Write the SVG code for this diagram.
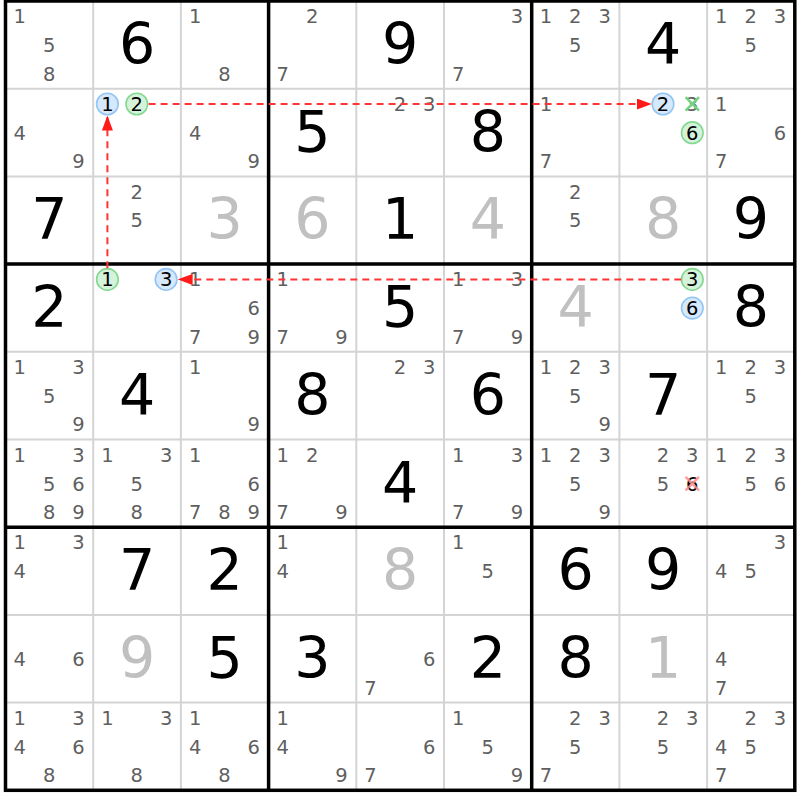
<svg xmlns="http://www.w3.org/2000/svg" width="800" height="800" viewBox="0 0 800 800">
<style>
text{font-family:"DejaVu Sans","Liberation Sans",sans-serif;text-anchor:middle}
.c{font-size:19.5px;fill:#5f5f5f}
.k{font-size:19.5px;fill:#000}
.g{font-size:57px;fill:#000}
.s{font-size:57px;fill:#c0c0c0}
.thin{stroke:#d4d4d4;stroke-width:2}
.thick{stroke:#000;stroke-width:3.5}
.cb{fill:#d6e8fb;stroke:#93c5f4;stroke-width:1.6}
.cg{fill:#d5f3da;stroke:#84d892;stroke-width:1.6}
.link{stroke:#ff3434;stroke-width:2;stroke-dasharray:7,5;fill:none}
.xg{stroke:#72d480;stroke-width:2.5}
.xr{stroke:#ff8c8c;stroke-width:2.5;opacity:0.85}
</style>
<defs>
<marker id="ah" markerUnits="userSpaceOnUse" markerWidth="15" markerHeight="11" refX="15" refY="5.5" orient="auto">
<path d="M0,0 L15,5.5 L0,11 z" fill="#ff1a1a"/>
</marker>
</defs>
<rect x="0" y="0" width="800" height="800" fill="#fff"/>
<g id="grid">
<path class="thin" d="M93.2,1V790.3M180.9,1V790.3M356.3,1V790.3M444,1V790.3M619.4,1V790.3M707.1,1V790.3M5.5,88.7H794.8M5.5,176.4H794.8M5.5,351.8H794.8M5.5,439.5H794.8M5.5,614.9H794.8M5.5,702.6H794.8"/>
<path class="thick" fill="none" d="M268.6,1V790.3M531.7,1V790.3M5.5,264.1H794.8M5.5,527.2H794.8"/>
<rect class="thick" fill="none" x="5.5" y="1" width="789.3" height="789.3"/>
</g>
<g id="cells">
<!-- Row 1 -->
<g id="r1c1" transform="translate(5.5,1)"><text class="c" x="14.2" y="22.3">1</text><text class="c" x="43.6" y="51">5</text><text class="c" x="43.6" y="79.7">8</text></g>
<g id="r1c2" transform="translate(93.2,1)"><text class="g" x="43.85" y="63">6</text></g>
<g id="r1c3" transform="translate(180.9,1)"><text class="c" x="14.2" y="22.3">1</text><text class="c" x="43.6" y="79.7">8</text></g>
<g id="r1c4" transform="translate(268.6,1)"><text class="c" x="43.6" y="22.3">2</text><text class="c" x="14.2" y="79.7">7</text></g>
<g id="r1c5" transform="translate(356.3,1)"><text class="g" x="43.85" y="63">9</text></g>
<g id="r1c6" transform="translate(444,1)"><text class="c" x="72.9" y="22.3">3</text><text class="c" x="14.2" y="79.7">7</text></g>
<g id="r1c7" transform="translate(531.7,1)"><text class="c" x="14.2" y="22.3">1</text><text class="c" x="43.6" y="22.3">2</text><text class="c" x="72.9" y="22.3">3</text><text class="c" x="43.6" y="51">5</text></g>
<g id="r1c8" transform="translate(619.4,1)"><text class="g" x="43.85" y="63">4</text></g>
<g id="r1c9" transform="translate(707.1,1)"><text class="c" x="14.2" y="22.3">1</text><text class="c" x="43.6" y="22.3">2</text><text class="c" x="72.9" y="22.3">3</text><text class="c" x="43.6" y="51">5</text></g>
<!-- Row 2 -->
<g id="r2c1" transform="translate(5.5,88.7)"><text class="c" x="14.2" y="51">4</text><text class="c" x="72.9" y="79.7">9</text></g>
<g id="r2c2" transform="translate(93.2,88.7)"><circle class="cb" cx="14.2" cy="15.3" r="10.8"/><text class="k" x="14.2" y="22.3">1</text><circle class="cg" cx="43.6" cy="15.3" r="10.8"/><text class="k" x="43.6" y="22.3">2</text></g>
<g id="r2c3" transform="translate(180.9,88.7)"><text class="c" x="14.2" y="51">4</text><text class="c" x="72.9" y="79.7">9</text></g>
<g id="r2c4" transform="translate(268.6,88.7)"><text class="g" x="43.85" y="63">5</text></g>
<g id="r2c5" transform="translate(356.3,88.7)"><text class="c" x="43.6" y="22.3">2</text><text class="c" x="72.9" y="22.3">3</text></g>
<g id="r2c6" transform="translate(444,88.7)"><text class="g" x="43.85" y="63">8</text></g>
<g id="r2c7" transform="translate(531.7,88.7)"><text class="c" x="14.2" y="22.3">1</text><text class="c" x="14.2" y="79.7">7</text></g>
<g id="r2c8" transform="translate(619.4,88.7)"><circle class="cb" cx="43.6" cy="15.3" r="10.8"/><text class="k" x="43.6" y="22.3">2</text><text class="c" x="72.9" y="22.3">3</text><path class="xg" d="M66.2,8.5L79.6,22M79.6,8.5L66.2,22"/><circle class="cg" cx="72.9" cy="44" r="10.8"/><text class="k" x="72.9" y="51">6</text></g>
<g id="r2c9" transform="translate(707.1,88.7)"><text class="c" x="14.2" y="22.3">1</text><text class="c" x="72.9" y="51">6</text><text class="c" x="14.2" y="79.7">7</text></g>
<!-- Row 3 -->
<g id="r3c1" transform="translate(5.5,176.4)"><text class="g" x="43.85" y="63">7</text></g>
<g id="r3c2" transform="translate(93.2,176.4)"><text class="c" x="43.6" y="22.3">2</text><text class="c" x="43.6" y="51">5</text></g>
<g id="r3c3" transform="translate(180.9,176.4)"><text class="s" x="43.85" y="63">3</text></g>
<g id="r3c4" transform="translate(268.6,176.4)"><text class="s" x="43.85" y="63">6</text></g>
<g id="r3c5" transform="translate(356.3,176.4)"><text class="g" x="43.85" y="63">1</text></g>
<g id="r3c6" transform="translate(444,176.4)"><text class="s" x="43.85" y="63">4</text></g>
<g id="r3c7" transform="translate(531.7,176.4)"><text class="c" x="43.6" y="22.3">2</text><text class="c" x="43.6" y="51">5</text></g>
<g id="r3c8" transform="translate(619.4,176.4)"><text class="s" x="43.85" y="63">8</text></g>
<g id="r3c9" transform="translate(707.1,176.4)"><text class="g" x="43.85" y="63">9</text></g>
<!-- Row 4 -->
<g id="r4c1" transform="translate(5.5,264.1)"><text class="g" x="43.85" y="63">2</text></g>
<g id="r4c2" transform="translate(93.2,264.1)"><circle class="cg" cx="14.2" cy="15.3" r="10.8"/><text class="k" x="14.2" y="22.3">1</text><circle class="cb" cx="72.9" cy="15.3" r="10.8"/><text class="k" x="72.9" y="22.3">3</text></g>
<g id="r4c3" transform="translate(180.9,264.1)"><text class="c" x="14.2" y="22.3">1</text><text class="c" x="72.9" y="51">6</text><text class="c" x="14.2" y="79.7">7</text><text class="c" x="72.9" y="79.7">9</text></g>
<g id="r4c4" transform="translate(268.6,264.1)"><text class="c" x="14.2" y="22.3">1</text><text class="c" x="14.2" y="79.7">7</text><text class="c" x="72.9" y="79.7">9</text></g>
<g id="r4c5" transform="translate(356.3,264.1)"><text class="g" x="43.85" y="63">5</text></g>
<g id="r4c6" transform="translate(444,264.1)"><text class="c" x="14.2" y="22.3">1</text><text class="c" x="72.9" y="22.3">3</text><text class="c" x="14.2" y="79.7">7</text><text class="c" x="72.9" y="79.7">9</text></g>
<g id="r4c7" transform="translate(531.7,264.1)"><text class="s" x="43.85" y="63">4</text></g>
<g id="r4c8" transform="translate(619.4,264.1)"><circle class="cg" cx="72.9" cy="15.3" r="10.8"/><text class="k" x="72.9" y="22.3">3</text><circle class="cb" cx="72.9" cy="44" r="10.8"/><text class="k" x="72.9" y="51">6</text></g>
<g id="r4c9" transform="translate(707.1,264.1)"><text class="g" x="43.85" y="63">8</text></g>
<!-- Row 5 -->
<g id="r5c1" transform="translate(5.5,351.8)"><text class="c" x="14.2" y="22.3">1</text><text class="c" x="72.9" y="22.3">3</text><text class="c" x="43.6" y="51">5</text><text class="c" x="72.9" y="79.7">9</text></g>
<g id="r5c2" transform="translate(93.2,351.8)"><text class="g" x="43.85" y="63">4</text></g>
<g id="r5c3" transform="translate(180.9,351.8)"><text class="c" x="14.2" y="22.3">1</text><text class="c" x="72.9" y="79.7">9</text></g>
<g id="r5c4" transform="translate(268.6,351.8)"><text class="g" x="43.85" y="63">8</text></g>
<g id="r5c5" transform="translate(356.3,351.8)"><text class="c" x="43.6" y="22.3">2</text><text class="c" x="72.9" y="22.3">3</text></g>
<g id="r5c6" transform="translate(444,351.8)"><text class="g" x="43.85" y="63">6</text></g>
<g id="r5c7" transform="translate(531.7,351.8)"><text class="c" x="14.2" y="22.3">1</text><text class="c" x="43.6" y="22.3">2</text><text class="c" x="72.9" y="22.3">3</text><text class="c" x="43.6" y="51">5</text><text class="c" x="72.9" y="79.7">9</text></g>
<g id="r5c8" transform="translate(619.4,351.8)"><text class="g" x="43.85" y="63">7</text></g>
<g id="r5c9" transform="translate(707.1,351.8)"><text class="c" x="14.2" y="22.3">1</text><text class="c" x="43.6" y="22.3">2</text><text class="c" x="72.9" y="22.3">3</text><text class="c" x="43.6" y="51">5</text></g>
<!-- Row 6 -->
<g id="r6c1" transform="translate(5.5,439.5)"><text class="c" x="14.2" y="22.3">1</text><text class="c" x="72.9" y="22.3">3</text><text class="c" x="43.6" y="51">5</text><text class="c" x="72.9" y="51">6</text><text class="c" x="43.6" y="79.7">8</text><text class="c" x="72.9" y="79.7">9</text></g>
<g id="r6c2" transform="translate(93.2,439.5)"><text class="c" x="14.2" y="22.3">1</text><text class="c" x="72.9" y="22.3">3</text><text class="c" x="43.6" y="51">5</text><text class="c" x="43.6" y="79.7">8</text></g>
<g id="r6c3" transform="translate(180.9,439.5)"><text class="c" x="14.2" y="22.3">1</text><text class="c" x="72.9" y="51">6</text><text class="c" x="14.2" y="79.7">7</text><text class="c" x="43.6" y="79.7">8</text><text class="c" x="72.9" y="79.7">9</text></g>
<g id="r6c4" transform="translate(268.6,439.5)"><text class="c" x="14.2" y="22.3">1</text><text class="c" x="43.6" y="22.3">2</text><text class="c" x="14.2" y="79.7">7</text><text class="c" x="72.9" y="79.7">9</text></g>
<g id="r6c5" transform="translate(356.3,439.5)"><text class="g" x="43.85" y="63">4</text></g>
<g id="r6c6" transform="translate(444,439.5)"><text class="c" x="14.2" y="22.3">1</text><text class="c" x="72.9" y="22.3">3</text><text class="c" x="14.2" y="79.7">7</text><text class="c" x="72.9" y="79.7">9</text></g>
<g id="r6c7" transform="translate(531.7,439.5)"><text class="c" x="14.2" y="22.3">1</text><text class="c" x="43.6" y="22.3">2</text><text class="c" x="72.9" y="22.3">3</text><text class="c" x="43.6" y="51">5</text><text class="c" x="72.9" y="79.7">9</text></g>
<g id="r6c8" transform="translate(619.4,439.5)"><text class="c" x="43.6" y="22.3">2</text><text class="c" x="72.9" y="22.3">3</text><text class="c" x="43.6" y="51">5</text><text class="k" x="72.9" y="51">6</text><path class="xr" d="M66.2,37.4L79.6,50.8M79.6,37.4L66.2,50.8"/></g>
<g id="r6c9" transform="translate(707.1,439.5)"><text class="c" x="14.2" y="22.3">1</text><text class="c" x="43.6" y="22.3">2</text><text class="c" x="72.9" y="22.3">3</text><text class="c" x="43.6" y="51">5</text><text class="c" x="72.9" y="51">6</text></g>
<!-- Row 7 -->
<g id="r7c1" transform="translate(5.5,527.2)"><text class="c" x="14.2" y="22.3">1</text><text class="c" x="72.9" y="22.3">3</text><text class="c" x="14.2" y="51">4</text></g>
<g id="r7c2" transform="translate(93.2,527.2)"><text class="g" x="43.85" y="63">7</text></g>
<g id="r7c3" transform="translate(180.9,527.2)"><text class="g" x="43.85" y="63">2</text></g>
<g id="r7c4" transform="translate(268.6,527.2)"><text class="c" x="14.2" y="22.3">1</text><text class="c" x="14.2" y="51">4</text></g>
<g id="r7c5" transform="translate(356.3,527.2)"><text class="s" x="43.85" y="63">8</text></g>
<g id="r7c6" transform="translate(444,527.2)"><text class="c" x="14.2" y="22.3">1</text><text class="c" x="43.6" y="51">5</text></g>
<g id="r7c7" transform="translate(531.7,527.2)"><text class="g" x="43.85" y="63">6</text></g>
<g id="r7c8" transform="translate(619.4,527.2)"><text class="g" x="43.85" y="63">9</text></g>
<g id="r7c9" transform="translate(707.1,527.2)"><text class="c" x="72.9" y="22.3">3</text><text class="c" x="14.2" y="51">4</text><text class="c" x="43.6" y="51">5</text></g>
<!-- Row 8 -->
<g id="r8c1" transform="translate(5.5,614.9)"><text class="c" x="14.2" y="51">4</text><text class="c" x="72.9" y="51">6</text></g>
<g id="r8c2" transform="translate(93.2,614.9)"><text class="s" x="43.85" y="63">9</text></g>
<g id="r8c3" transform="translate(180.9,614.9)"><text class="g" x="43.85" y="63">5</text></g>
<g id="r8c4" transform="translate(268.6,614.9)"><text class="g" x="43.85" y="63">3</text></g>
<g id="r8c5" transform="translate(356.3,614.9)"><text class="c" x="72.9" y="51">6</text><text class="c" x="14.2" y="79.7">7</text></g>
<g id="r8c6" transform="translate(444,614.9)"><text class="g" x="43.85" y="63">2</text></g>
<g id="r8c7" transform="translate(531.7,614.9)"><text class="g" x="43.85" y="63">8</text></g>
<g id="r8c8" transform="translate(619.4,614.9)"><text class="s" x="43.85" y="63">1</text></g>
<g id="r8c9" transform="translate(707.1,614.9)"><text class="c" x="14.2" y="51">4</text><text class="c" x="14.2" y="79.7">7</text></g>
<!-- Row 9 -->
<g id="r9c1" transform="translate(5.5,702.6)"><text class="c" x="14.2" y="22.3">1</text><text class="c" x="72.9" y="22.3">3</text><text class="c" x="14.2" y="51">4</text><text class="c" x="72.9" y="51">6</text><text class="c" x="43.6" y="79.7">8</text></g>
<g id="r9c2" transform="translate(93.2,702.6)"><text class="c" x="14.2" y="22.3">1</text><text class="c" x="72.9" y="22.3">3</text><text class="c" x="43.6" y="79.7">8</text></g>
<g id="r9c3" transform="translate(180.9,702.6)"><text class="c" x="14.2" y="22.3">1</text><text class="c" x="14.2" y="51">4</text><text class="c" x="72.9" y="51">6</text><text class="c" x="43.6" y="79.7">8</text></g>
<g id="r9c4" transform="translate(268.6,702.6)"><text class="c" x="14.2" y="22.3">1</text><text class="c" x="14.2" y="51">4</text><text class="c" x="72.9" y="79.7">9</text></g>
<g id="r9c5" transform="translate(356.3,702.6)"><text class="c" x="72.9" y="51">6</text><text class="c" x="14.2" y="79.7">7</text></g>
<g id="r9c6" transform="translate(444,702.6)"><text class="c" x="14.2" y="22.3">1</text><text class="c" x="43.6" y="51">5</text><text class="c" x="72.9" y="79.7">9</text></g>
<g id="r9c7" transform="translate(531.7,702.6)"><text class="c" x="43.6" y="22.3">2</text><text class="c" x="72.9" y="22.3">3</text><text class="c" x="43.6" y="51">5</text><text class="c" x="14.2" y="79.7">7</text></g>
<g id="r9c8" transform="translate(619.4,702.6)"><text class="c" x="43.6" y="22.3">2</text><text class="c" x="72.9" y="22.3">3</text><text class="c" x="43.6" y="51">5</text></g>
<g id="r9c9" transform="translate(707.1,702.6)"><text class="c" x="43.6" y="22.3">2</text><text class="c" x="72.9" y="22.3">3</text><text class="c" x="14.2" y="51">4</text><text class="c" x="43.6" y="51">5</text><text class="c" x="14.2" y="79.7">7</text></g>
</g>
<g id="connectors">
<line class="link" x1="107.4" y1="268.2" x2="107.4" y2="115.5" marker-end="url(#ah)"/>
<line class="link" x1="148.6" y1="104" x2="651.8" y2="104" marker-end="url(#ah)"/>
<line class="link" x1="681.3" y1="279.4" x2="177.6" y2="279.4" marker-end="url(#ah)"/>
</g>
</svg>
